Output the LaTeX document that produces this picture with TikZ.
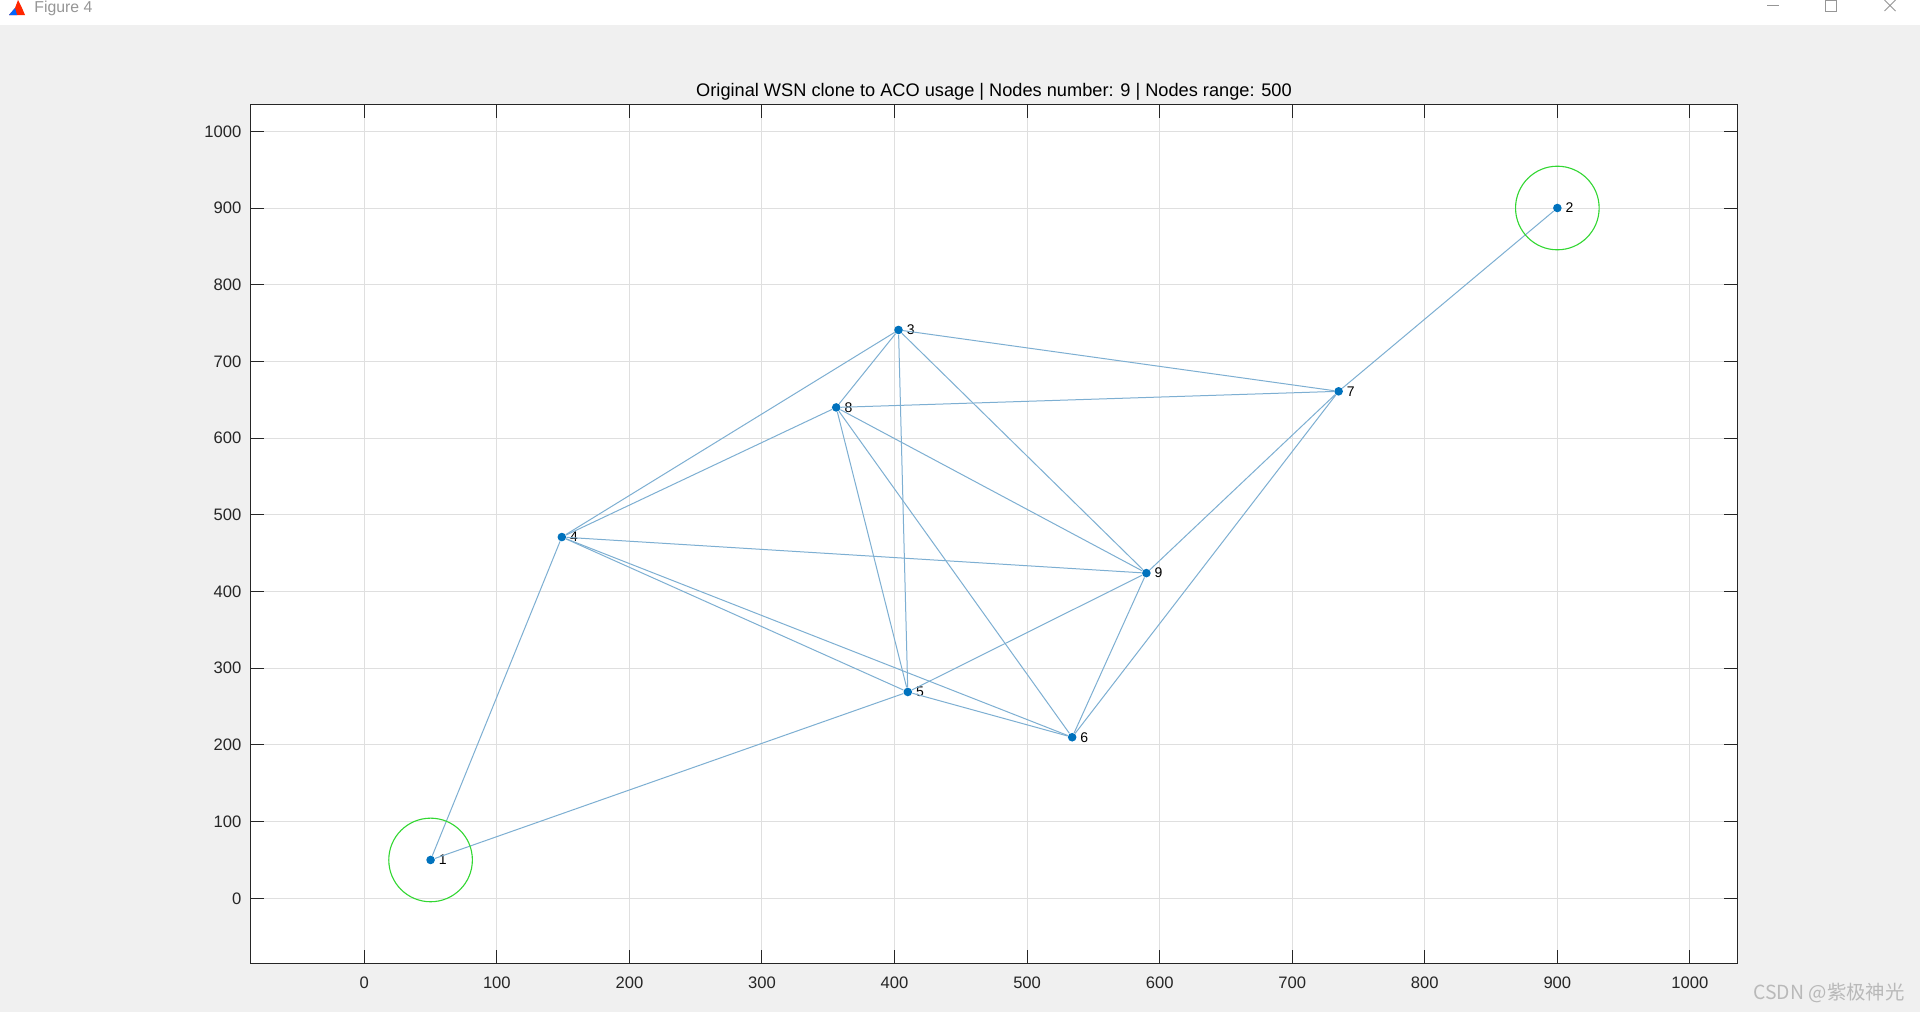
\documentclass[tikz,border=0pt]{standalone}
\usepackage{fontspec}
\setmainfont{Liberation Sans}
\newfontfamily\cjkfont{Noto Sans CJK SC}
\usepackage{xcolor}
\usepackage{tikz}
\usetikzlibrary{positioning}
\definecolor{figbg}{RGB}{240,240,240}
\definecolor{axcol}{RGB}{38,38,38}
\definecolor{gridcol}{RGB}{223,223,223}
\definecolor{dotblue}{RGB}{0,114,189}
\definecolor{linkblue}{RGB}{125,175,210}
\definecolor{rangegreen}{RGB}{50,215,50}
\definecolor{chromegray}{RGB}{150,150,150}
\definecolor{wmgray}{RGB}{185,185,185}
\tikzstyle{sensor} = [circle, fill=dotblue, inner sep=0pt, minimum size=4.3pt]
\tikzstyle{numlabel} = [font=\fontsize{7}{8}\selectfont, inner sep=0pt,
    text=black, label distance=1.6pt]
\tikzstyle{link} = [draw=linkblue, line width=0.5pt]
\tikzstyle{rangering} = [draw=rangegreen, line width=0.55pt]
\tikzstyle{gridline} = [draw=gridcol, line width=0.5pt]
\tikzstyle{axtick} = [draw=axcol, line width=0.5pt]
\tikzstyle{ticklabel} = [font=\fontsize{8.3}{9}\selectfont, text=axcol, inner sep=0pt]

\begin{document}
\begin{tikzpicture}[x=0.5pt, y=-0.5pt]
  % Window
  \useasboundingbox (0,0) rectangle (1920,1012);
  \fill[figbg] (0,0) rectangle (1920,1012);
  \fill[white] (0,0) rectangle (1920,25);
  \fill[red!70!orange] (9,15) -- (15,8) -- (18,0) -- (22,8) -- (25,15) -- cycle;
  \fill[blue!60!cyan] (9,15) -- (15,8) -- (17,15) -- cycle;
  \node[anchor=base west, text=chromegray, font=\fontsize{7.9}{9}\selectfont,
    inner sep=0pt] (wintitle) at (34,12) {Figure 4};
  \draw[chromegray, line width=0.5pt] (1767,5.5) -- (1779,5.5);
  \draw[chromegray, line width=0.5pt] (1825,0) rectangle (1836.5,11);
  \draw[chromegray, line width=0.5pt] (1884.5,0) -- (1895.5,11)
    (1884.5,11) -- (1895.5,0);
  \node[anchor=base, font=\fontsize{9.1}{10}\selectfont, inner sep=0pt]
    (plottitle) at (994,96) {Original WSN clone to ACO usage | Nodes number: 9 | Nodes range: 500};
  \node[anchor=east, text=wmgray, font=\cjkfont\fontsize{9.7}{11}\selectfont,
    inner sep=0pt] (mark) at (1905,993) {CSDN @紫极神光};

  \begin{scope}[shift={(182.15pt,-449.15pt)}, x=0.6628pt, y=0.3835pt]
    % Axes
    \fill[white] (-86,-85) rectangle (1036,1035);
    \foreach \v in {0,100,...,1000} {
      \draw[gridline] (\v,-85) -- (\v,1035);
      \draw[gridline] (-86,\v) -- (1036,\v);
    }
    \foreach \v in {0,100,...,1000} {
      \draw[axtick] (\v,-85) -- ++(0,6.6pt);
      \draw[axtick] (\v,1035) -- ++(0,-6.6pt);
      \draw[axtick] (-86,\v) -- ++(6.6pt,0);
      \draw[axtick] (1036,\v) -- ++(-6.6pt,0);
      \node[ticklabel] (xl\v) at (\v,-85) [yshift=-9.4pt] {\v};
      \node[ticklabel, anchor=east] (yl\v) at (-86,\v) [xshift=-4.3pt] {\v};
    }
    \draw[axcol, line width=0.5pt] (-86,-85) rectangle (1036,1035);

    % Place nodes
    \node[sensor, label={[numlabel]right:1}] (n1) at (50,50) {};
    \node[sensor, label={[numlabel]right:2}] (n2) at (900,900) {};
    \node[sensor, label={[numlabel]right:3}] (n3) at (403,741) {};
    \node[sensor, label={[numlabel]right:4}] (n4) at (149,471) {};
    \node[sensor, label={[numlabel]right:5}] (n5) at (410,269) {};
    \node[sensor, label={[numlabel]right:6}] (n6) at (534,210) {};
    \node[sensor, label={[numlabel]right:7}] (n7) at (735,661) {};
    \node[sensor, label={[numlabel]right:8}] (n8) at (356,640) {};
    \node[sensor, label={[numlabel]right:9}] (n9) at (590,424) {};

    % Draw edges
    \foreach \a/\b in {1/4, 1/5, 2/7, 3/8, 3/4, 3/7, 3/5, 3/9, 8/4, 8/7, 8/5,
                       8/6, 8/9, 4/9, 4/5, 4/6, 5/9, 5/6, 9/6, 9/7, 7/6}
      \path[link] (n\a) -- (n\b);

    % Sink and source range
    \draw[rangering] (n1) circle (20.9pt);
    \draw[rangering] (n2) circle (20.9pt);
  \end{scope}
\end{tikzpicture}
\end{document}
